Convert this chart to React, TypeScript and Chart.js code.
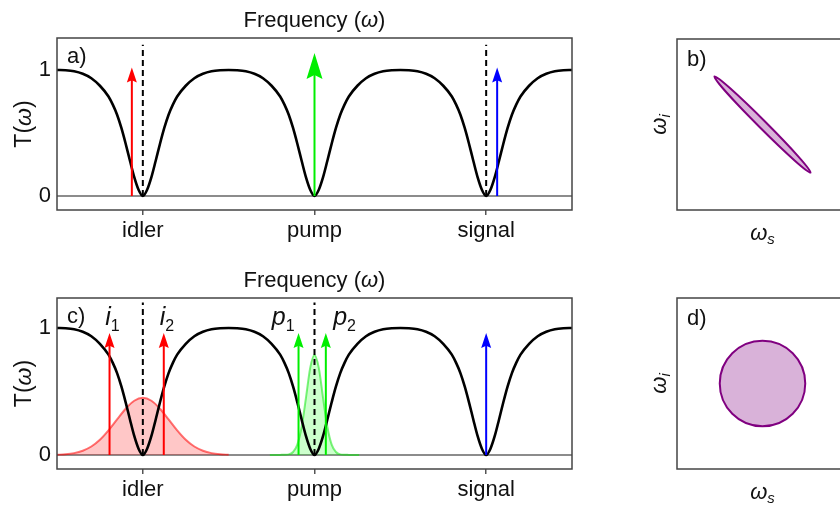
import React, { useEffect, useRef } from "react";
import { Chart, registerables } from "chart.js";
Chart.register(...registerables);

const FONT = "'Liberation Sans', Arial, Helvetica, sans-serif";
Chart.defaults.font.family = FONT;

// ---------- data ----------
const xTickValues = [-1, 0, 1];
const xTickLabels = ["idler", "pump", "signal"];
const yTickValues = [0, 1];

// transmission T(ω)
const transX = [
  -1.5, -1.45, -1.4, -1.35, -1.3, -1.25, -1.2, -1.175, -1.15, -1.125, -1.1, -1.075, -1.05, -1.025, -1,
  -0.975, -0.95, -0.925, -0.9, -0.875, -0.85, -0.825, -0.8, -0.75, -0.7, -0.65, -0.6, -0.55,
  -0.5, -0.45, -0.4, -0.35, -0.3, -0.25, -0.2, -0.175, -0.15, -0.125, -0.1, -0.075, -0.05, -0.025, 0,
  0.025, 0.05, 0.075, 0.1, 0.125, 0.15, 0.175, 0.2, 0.25, 0.3, 0.35, 0.4, 0.45,
  0.5, 0.55, 0.6, 0.65, 0.7, 0.75, 0.8, 0.825, 0.85, 0.875, 0.9, 0.925, 0.95, 0.975, 1,
  1.025, 1.05, 1.075, 1.1, 1.125, 1.15, 1.175, 1.2, 1.25, 1.3, 1.35, 1.4, 1.45, 1.5,
];
const transT = [
  1.0, 0.998, 0.99, 0.97, 0.935, 0.875, 0.79, 0.725, 0.645, 0.54, 0.415, 0.28, 0.15, 0.05, 0,
  0.05, 0.15, 0.28, 0.415, 0.54, 0.645, 0.725, 0.79, 0.875, 0.935, 0.97, 0.99, 0.998,
  1.0, 0.998, 0.99, 0.97, 0.935, 0.875, 0.79, 0.725, 0.645, 0.54, 0.415, 0.28, 0.15, 0.05, 0,
  0.05, 0.15, 0.28, 0.415, 0.54, 0.645, 0.725, 0.79, 0.875, 0.935, 0.97, 0.99, 0.998,
  1.0, 0.998, 0.99, 0.97, 0.935, 0.875, 0.79, 0.725, 0.645, 0.54, 0.415, 0.28, 0.15, 0.05, 0,
  0.05, 0.15, 0.28, 0.415, 0.54, 0.645, 0.725, 0.79, 0.875, 0.935, 0.97, 0.99, 0.998, 1.0,
];

// idler spectrum (panel c)
const idlerGaussX = [
  -1.5, -1.45, -1.4, -1.35, -1.3, -1.25, -1.2, -1.15, -1.1, -1.05, -1,
  -0.95, -0.9, -0.85, -0.8, -0.75, -0.7, -0.65, -0.6, -0.55, -0.5,
];
const idlerGaussY = [
  0.002, 0.006, 0.015, 0.034, 0.067, 0.12, 0.194, 0.28, 0.364, 0.427, 0.45,
  0.427, 0.364, 0.28, 0.194, 0.12, 0.067, 0.034, 0.015, 0.006, 0.002,
];
// pump spectrum (panel c)
const pumpGaussX = [
  -0.26, -0.225, -0.2, -0.175, -0.15, -0.125, -0.1, -0.075, -0.05, -0.025, 0,
  0.025, 0.05, 0.075, 0.1, 0.125, 0.15, 0.175, 0.2, 0.225, 0.26,
];
const pumpGaussY = [
  0, 0, 0.001, 0.002, 0.005, 0.024, 0.082, 0.221, 0.448, 0.686, 0.787,
  0.686, 0.448, 0.221, 0.082, 0.024, 0.005, 0.002, 0.001, 0, 0,
];

const dashA = [-1, 1];
const dashC = [-1, 0];
const dashTop = 1.2;

const arrowsAX = [-1.064, 0, 1.064];
const arrowsATip = [1.02, 1.135, 1.02];
const arrowsCX = [-1.194, -0.878, -0.093, 0.066, 1.0];
const arrowsCTip = [0.96, 0.96, 0.96, 0.96, 0.96];

const specLabelMain = ["i", "i", "p", "p"];
const specLabelSub = ["1", "2", "1", "2"];
const specLabelX = [-1.177, -0.859, -0.182, 0.175];
const specLabelY = 1.02;

// joint spectral amplitude shapes (panels b, d)
const ellipseCenter = [0, 0];
const ellipseSemiMajor = 0.795;
const ellipseSemiMinor = 0.045;
const ellipseAngleDeg = -45;
const circleCenter = [0, 0];
const circleRadius = 0.5;

// ---------- styles ----------
const arrowsAColor = ["#ff0000", "#00ee00", "#0000ff"];
const arrowsAHead = [[10, 15], [16, 26], [10, 15]];
const arrowsCColor = ["#ff0000", "#ff0000", "#00ee00", "#00ee00", "#0000ff"];
const arrowsCHead = [[10, 15], [10, 15], [10, 15], [10, 15], [10, 15]];
const TEXT = "#111";
const FRAME = "#444";

const f = (size: number, italic = false) => `${italic ? "italic " : ""}${size}px ${FONT}`;

type Part = { t: string; font: string; dy?: number };

function drawParts(ctx: CanvasRenderingContext2D, parts: Part[], x: number, y: number, align: "center" | "left" = "center") {
  ctx.save();
  ctx.fillStyle = TEXT;
  ctx.textBaseline = "alphabetic";
  ctx.textAlign = "left";
  let total = 0;
  for (const p of parts) {
    ctx.font = p.font;
    total += ctx.measureText(p.t).width;
  }
  let cx = align === "center" ? x - total / 2 : x;
  for (const p of parts) {
    ctx.font = p.font;
    ctx.fillText(p.t, cx, y + (p.dy || 0));
    cx += ctx.measureText(p.t).width;
  }
  ctx.restore();
}

function drawPartsRotated(ctx: CanvasRenderingContext2D, parts: Part[], x: number, y: number) {
  ctx.save();
  ctx.translate(x, y);
  ctx.rotate(-Math.PI / 2);
  drawParts(ctx, parts, 0, 0, "center");
  ctx.restore();
}

function drawFrame(ctx: CanvasRenderingContext2D, a: any) {
  ctx.save();
  ctx.strokeStyle = FRAME;
  ctx.lineWidth = 1.5;
  ctx.strokeRect(a.left, a.top, a.right - a.left, a.bottom - a.top);
  ctx.restore();
}

function freqDecor(opts: {
  arrowsX: number[]; arrowsTip: number[]; colors: string[]; heads: number[][];
  panelLabel: string; specLabels: boolean;
}) {
  return {
    id: "freqDecor",
    afterDatasetsDraw(chart: any) {
      const { ctx, chartArea: a, scales } = chart;
      const xs = scales.x, ys = scales.y;
      ctx.save();
      ctx.beginPath();
      ctx.rect(a.left, a.top, a.right - a.left, a.bottom - a.top);
      ctx.clip();
      opts.arrowsX.forEach((ax, i) => {
        const px = xs.getPixelForValue(ax);
        const p0 = ys.getPixelForValue(0);
        const pt = ys.getPixelForValue(opts.arrowsTip[i]);
        const [hw, hl] = opts.heads[i];
        ctx.strokeStyle = opts.colors[i];
        ctx.fillStyle = opts.colors[i];
        ctx.lineWidth = 2;
        ctx.beginPath();
        ctx.moveTo(px, p0);
        ctx.lineTo(px, pt + hl * 0.7);
        ctx.stroke();
        ctx.beginPath();
        ctx.moveTo(px, pt);
        ctx.lineTo(px - hw / 2, pt + hl);
        ctx.lineTo(px, pt + hl * 0.85);
        ctx.lineTo(px + hw / 2, pt + hl);
        ctx.closePath();
        ctx.fill();
      });
      ctx.restore();
      drawFrame(ctx, a);
    },
    afterDraw(chart: any) {
      const { ctx, chartArea: a, scales } = chart;
      const cx = (a.left + a.right) / 2;
      drawParts(ctx, [{ t: "Frequency (", font: f(22) }, { t: "ω", font: f(22, true) }, { t: ")", font: f(22) }], cx, a.top - 11);
      drawPartsRotated(ctx, [{ t: "T(", font: f(23) }, { t: "ω", font: f(23, true) }, { t: ")", font: f(23) }], 31, (a.top + a.bottom) / 2);
      drawParts(ctx, [{ t: opts.panelLabel, font: f(22) }], a.left + 10, a.top + 25, "left");
      if (opts.specLabels) {
        specLabelMain.forEach((m, i) => {
          const px = scales.x.getPixelForValue(specLabelX[i]);
          const py = scales.y.getPixelForValue(specLabelY);
          drawParts(ctx, [{ t: m, font: f(25, true) }, { t: specLabelSub[i], font: f(16), dy: 6 }], px, py);
        });
      }
    },
  };
}

function lineDs(xs: number[], ys: number[], extra: any) {
  return { data: xs.map((x, i) => ({ x, y: ys[i] })), pointRadius: 0, ...extra };
}

function freqConfig(p: {
  height: number; areaTop: number; areaBottom: number; yMin: number; yMax: number;
  datasets: any[]; decor: any;
}) {
  return {
    type: "line",
    data: { datasets: p.datasets },
    options: {
      animation: false,
      responsive: false,
      devicePixelRatio: 1,
      layout: { padding: { left: 0, right: 28, top: p.areaTop, bottom: 0 } },
      plugins: { legend: { display: false }, tooltip: { enabled: false } },
      elements: { point: { radius: 0 }, line: { tension: 0 } },
      scales: {
        x: {
          type: "linear", min: -1.5, max: 1.5,
          afterBuildTicks: (s: any) => { s.ticks = xTickValues.map((v) => ({ value: v })); },
          ticks: { callback: (_v: any, i: number) => xTickLabels[i], font: { size: 22, family: FONT }, color: TEXT, padding: 3, maxRotation: 0, autoSkip: false },
          grid: { drawOnChartArea: false, drawTicks: true, tickLength: 5, color: "#555", lineWidth: 1.5 },
          border: { display: false },
          afterFit: (s: any) => { s.height = p.height - p.areaBottom; },
        },
        y: {
          type: "linear", min: p.yMin, max: p.yMax,
          afterBuildTicks: (s: any) => { s.ticks = yTickValues.map((v) => ({ value: v })); },
          ticks: { font: { size: 22, family: FONT }, color: TEXT, padding: 6, autoSkip: false },
          grid: { display: false, drawTicks: false },
          border: { display: false },
          afterFit: (s: any) => { s.width = 57; },
        },
      },
    },
    plugins: [p.decor],
  };
}

function jsaDecor(label: string, shape: "ellipse" | "circle") {
  return {
    id: "jsaDecor",
    afterDraw(chart: any) {
      const { ctx, chartArea: a, scales } = chart;
      const xs = scales.x, ys = scales.y;
      let cxD: number, cyD: number, aD: number, bD: number, ang: number;
      if (shape === "ellipse") {
        [cxD, cyD] = ellipseCenter; aD = ellipseSemiMajor; bD = ellipseSemiMinor; ang = (ellipseAngleDeg * Math.PI) / 180;
      } else {
        [cxD, cyD] = circleCenter; aD = circleRadius; bD = circleRadius; ang = 0;
      }
      const pc = [xs.getPixelForValue(cxD), ys.getPixelForValue(cyD)];
      const pa = [xs.getPixelForValue(cxD + aD * Math.cos(ang)), ys.getPixelForValue(cyD + aD * Math.sin(ang))];
      const pb = [xs.getPixelForValue(cxD - bD * Math.sin(ang)), ys.getPixelForValue(cyD + bD * Math.cos(ang))];
      const ra = Math.hypot(pa[0] - pc[0], pa[1] - pc[1]);
      const rb = Math.hypot(pb[0] - pc[0], pb[1] - pc[1]);
      const rot = Math.atan2(pa[1] - pc[1], pa[0] - pc[0]);
      ctx.save();
      ctx.beginPath();
      ctx.ellipse(pc[0], pc[1], ra, rb, rot, 0, Math.PI * 2);
      ctx.fillStyle = "rgba(128,0,128,0.3)";
      ctx.fill();
      ctx.strokeStyle = "#800080";
      ctx.lineWidth = 2;
      ctx.stroke();
      ctx.restore();
      drawFrame(ctx, a);
      drawParts(ctx, [{ t: label, font: f(22) }], a.left + 10, a.top + 27, "left");
      const mid = (a.left + a.right) / 2;
      drawParts(ctx, [{ t: "ω", font: f(22, true) }, { t: "s", font: f(15, true), dy: 4 }], mid, a.bottom + 30);
      drawPartsRotated(ctx, [{ t: "ω", font: f(22, true) }, { t: "i", font: f(15, true), dy: 4 }], a.left - 11, (a.top + a.bottom) / 2);
    },
  };
}

function jsaConfig(p: { areaTop: number; areaBottom: number; height: number; decor: any }) {
  return {
    type: "scatter",
    data: { datasets: [] },
    options: {
      animation: false,
      responsive: false,
      devicePixelRatio: 1,
      layout: { padding: { left: 77, right: 12, top: p.areaTop, bottom: p.height - p.areaBottom } },
      plugins: { legend: { display: false }, tooltip: { enabled: false } },
      scales: {
        x: { type: "linear", min: -1, max: 1, display: false },
        y: { type: "linear", min: -1, max: 1, display: false },
      },
    },
    plugins: [p.decor],
  };
}

function ChartCanvas(props: { left: number; top: number; width: number; height: number; build: () => any }) {
  const ref = useRef<HTMLCanvasElement>(null);
  useEffect(() => {
    const chart = new Chart(ref.current as HTMLCanvasElement, props.build());
    return () => chart.destroy();
  }, []);
  return (
    <canvas
      ref={ref}
      width={props.width}
      height={props.height}
      style={{ position: "absolute", left: props.left, top: props.top, width: props.width, height: props.height }}
    />
  );
}

const zeroLine = () => lineDs([-1.5, 1.5], [0, 0], { borderColor: "#666", borderWidth: 1.5 });
const transLine = () => lineDs(transX, transT, { borderColor: "#000", borderWidth: 2.6, cubicInterpolationMode: "monotone" });
const dashLines = (xs: number[]) =>
  xs.map((d) => lineDs([d, d], [0, dashTop], { borderColor: "#000", borderWidth: 2, borderDash: [6, 4] }));

function buildA() {
  return freqConfig({
    height: 252, areaTop: 38, areaBottom: 210, yMin: -0.111, yMax: 1.254,
    datasets: [...dashLines(dashA), transLine(), zeroLine()],
    decor: freqDecor({ arrowsX: arrowsAX, arrowsTip: arrowsATip, colors: arrowsAColor, heads: arrowsAHead, panelLabel: "a)", specLabels: false }),
  });
}

function buildC() {
  return freqConfig({
    height: 252, areaTop: 43, areaBottom: 214, yMin: -0.11, yMax: 1.236,
    datasets: [
      ...dashLines(dashC),
      transLine(),
      lineDs(idlerGaussX, idlerGaussY, { borderColor: "rgba(255,0,0,0.55)", borderWidth: 2, backgroundColor: "rgba(255,0,0,0.22)", fill: "origin", cubicInterpolationMode: "monotone" }),
      lineDs(pumpGaussX, pumpGaussY, { borderColor: "rgba(0,230,0,0.5)", borderWidth: 2, backgroundColor: "rgba(0,255,0,0.2)", fill: "origin", cubicInterpolationMode: "monotone" }),
      zeroLine(),
    ],
    decor: freqDecor({ arrowsX: arrowsCX, arrowsTip: arrowsCTip, colors: arrowsCColor, heads: arrowsCHead, panelLabel: "c)", specLabels: true }),
  });
}

const buildB = () => jsaConfig({ areaTop: 39, areaBottom: 210, height: 252, decor: jsaDecor("b)", "ellipse") });
const buildD = () => jsaConfig({ areaTop: 43, areaBottom: 214, height: 252, decor: jsaDecor("d)", "circle") });

export default function App() {
  return (
    <div style={{ position: "fixed", left: 0, top: 0, width: 840, height: 507, overflow: "hidden", background: "#fff" }}>
      <ChartCanvas left={0} top={0} width={600} height={252} build={buildA} />
      <ChartCanvas left={0} top={255} width={600} height={252} build={buildC} />
      <ChartCanvas left={600} top={0} width={260} height={252} build={buildB} />
      <ChartCanvas left={600} top={255} width={260} height={252} build={buildD} />
    </div>
  );
}
